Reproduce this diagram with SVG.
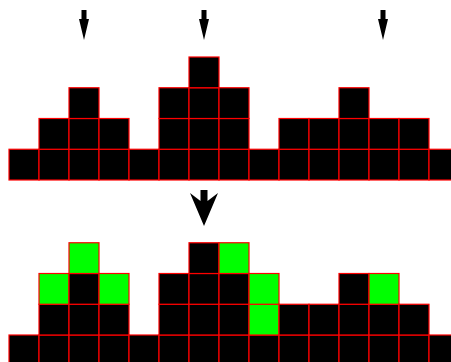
<svg xmlns="http://www.w3.org/2000/svg" width="451" height="362" viewBox="0 0 451 362">
<defs>
<style>
.k{fill:#000;stroke:#ff0000;stroke-width:1.2}
.g{fill:#00ff00;stroke:#ff0000;stroke-width:1.2}
.a{fill:#000}
</style>
<rect id="c" width="30" height="30.75"/>
</defs>
<rect width="451" height="362" fill="#fff"/>
<g id="arrows">
<polygon class="a" points="81.5,10 86.5,10 86.5,19 89,19 84,40 79,19 81.5,19"/>
<polygon class="a" points="201.5,10 206.5,10 206.5,19 209,19 204,40 199,19 201.5,19"/>
<polygon class="a" points="380.5,10 385.5,10 385.5,19 388,19 383,40 378,19 380.5,19"/>
<polygon class="a" points="200.5,190 207.5,190 207.5,201 218,193 204,226 190,193 200.5,201"/>
</g>
<g id="before">
<use href="#c" class="k" x="9" y="149.25"/>
<use href="#c" class="k" x="39" y="149.25"/><use href="#c" class="k" x="39" y="118.5"/>
<use href="#c" class="k" x="69" y="149.25"/><use href="#c" class="k" x="69" y="118.5"/><use href="#c" class="k" x="69" y="87.75"/>
<use href="#c" class="k" x="99" y="149.25"/><use href="#c" class="k" x="99" y="118.5"/>
<use href="#c" class="k" x="129" y="149.25"/>
<use href="#c" class="k" x="159" y="149.25"/><use href="#c" class="k" x="159" y="118.5"/><use href="#c" class="k" x="159" y="87.75"/>
<use href="#c" class="k" x="189" y="149.25"/><use href="#c" class="k" x="189" y="118.5"/><use href="#c" class="k" x="189" y="87.75"/><use href="#c" class="k" x="189" y="57"/>
<use href="#c" class="k" x="219" y="149.25"/><use href="#c" class="k" x="219" y="118.5"/><use href="#c" class="k" x="219" y="87.75"/>
<use href="#c" class="k" x="249" y="149.25"/>
<use href="#c" class="k" x="279" y="149.25"/><use href="#c" class="k" x="279" y="118.5"/>
<use href="#c" class="k" x="309" y="149.25"/><use href="#c" class="k" x="309" y="118.5"/>
<use href="#c" class="k" x="339" y="149.25"/><use href="#c" class="k" x="339" y="118.5"/><use href="#c" class="k" x="339" y="87.75"/>
<use href="#c" class="k" x="369" y="149.25"/><use href="#c" class="k" x="369" y="118.5"/>
<use href="#c" class="k" x="399" y="149.25"/><use href="#c" class="k" x="399" y="118.5"/>
<use href="#c" class="k" x="429" y="149.25"/>
</g>
<g id="after">
<use href="#c" class="k" x="9" y="335"/>
<use href="#c" class="k" x="39" y="335"/><use href="#c" class="k" x="39" y="304.25"/><use href="#c" class="g" x="39" y="273.5"/>
<use href="#c" class="k" x="69" y="335"/><use href="#c" class="k" x="69" y="304.25"/><use href="#c" class="k" x="69" y="273.5"/><use href="#c" class="g" x="69" y="242.75"/>
<use href="#c" class="k" x="99" y="335"/><use href="#c" class="k" x="99" y="304.25"/><use href="#c" class="g" x="99" y="273.5"/>
<use href="#c" class="k" x="129" y="335"/>
<use href="#c" class="k" x="159" y="335"/><use href="#c" class="k" x="159" y="304.25"/><use href="#c" class="k" x="159" y="273.5"/>
<use href="#c" class="k" x="189" y="335"/><use href="#c" class="k" x="189" y="304.25"/><use href="#c" class="k" x="189" y="273.5"/><use href="#c" class="k" x="189" y="242.75"/>
<use href="#c" class="k" x="219" y="335"/><use href="#c" class="k" x="219" y="304.25"/><use href="#c" class="k" x="219" y="273.5"/><use href="#c" class="g" x="219" y="242.75"/>
<use href="#c" class="k" x="249" y="335"/><use href="#c" class="g" x="249" y="304.25"/><use href="#c" class="g" x="249" y="273.5"/>
<use href="#c" class="k" x="279" y="335"/><use href="#c" class="k" x="279" y="304.25"/>
<use href="#c" class="k" x="309" y="335"/><use href="#c" class="k" x="309" y="304.25"/>
<use href="#c" class="k" x="339" y="335"/><use href="#c" class="k" x="339" y="304.25"/><use href="#c" class="k" x="339" y="273.5"/>
<use href="#c" class="k" x="369" y="335"/><use href="#c" class="k" x="369" y="304.25"/><use href="#c" class="g" x="369" y="273.5"/>
<use href="#c" class="k" x="399" y="335"/><use href="#c" class="k" x="399" y="304.25"/>
<use href="#c" class="k" x="429" y="335"/>
</g>
</svg>
